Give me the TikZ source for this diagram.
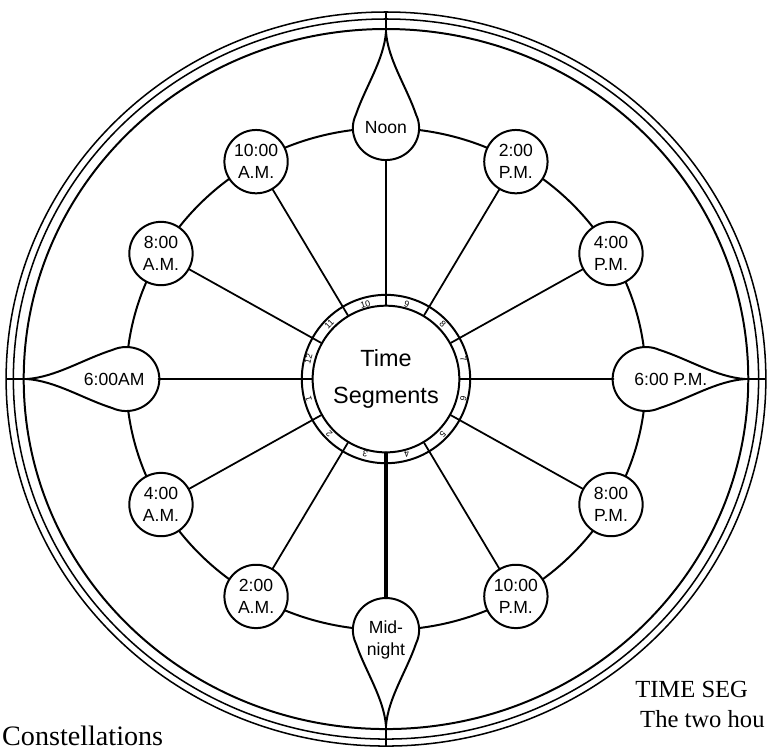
\documentclass[tikz,border=0pt]{standalone}
\usepackage{fontspec}
\setmainfont{Liberation Serif}
\newfontfamily\handfont{Liberation Sans}
\usepackage{tikz}
\usetikzlibrary{backgrounds}
\tikzset{
  every picture/.style={line join=round, line cap=round},
  ring/.style={line width=1.7pt},
  handtext/.style={font=\handfont\fontsize{15}{19}\selectfont},
  hour/.style={circle, draw, line width=1.7pt, fill=white, minimum size=1.9cm, inner sep=0pt, align=center, handtext},
  cardinal/.style={hour, draw=none, fill=none},
  spoke/.style={line width=1.5pt},
  heavy/.style={line width=2.3pt},
  heavier/.style={line width=3pt},
  segnum/.style={font=\handfont\fontsize{7.5}{7.5}\selectfont, inner sep=0pt},
  caption/.style={font=\fontsize{21}{23}\selectfont, anchor=base west, inner sep=0pt},
}
\newcommand{\teardrop}[1]{%
  \filldraw[ring, fill=white, shift={(#1:251)}, rotate=#1]
    (96,0) .. controls (68,2) and (41,20) .. (13.5,29)
    arc[start angle=65, end angle=295, radius=32]
    .. controls (41,-20) and (68,-2) .. (96,0) -- cycle;
  \draw[line width=1pt] (#1:347) -- (#1:367);}

\begin{document}
\begin{tikzpicture}[x=0.03cm, y=0.03cm, xscale=1.035]
\useasboundingbox (-372.9,-371) rectangle (368.1,379);
\node[circle, draw, ring, minimum size=4.4cm, inner sep=0pt, align=center, font=\handfont\fontsize{20}{32}\selectfont] (seg) at (0,0) {Time\\Segments};
\node[circle, draw, ring, minimum size=5.05cm, inner sep=0pt] (band) at (0,0) {};
\foreach \n in {1,...,12}
  \node[segnum, rotate={30*\n-285}] (num\n) at ({30*\n-195}:77.5) {\n};
\node[cardinal] (noon) at (90:251) {Noon};
\node[hour] (pm2) at (60:251) {2:00\\P.M.};
\node[hour] (pm4) at (30:251) {4:00\\P.M.};
\node[cardinal, label={[handtext, xshift=0.75cm]center:{6:00 P.M.}}] (pm6) at (0:251) {};
\node[hour] (pm8) at (-30:251) {8:00\\P.M.};
\node[hour] (pm10) at (-60:251) {10:00\\P.M.};
\node[cardinal, label={[handtext, align=center, yshift=-0.3cm]center:{Mid-\\night}}] (midnight) at (-90:251) {};
\node[hour] (am2) at (-120:251) {2:00\\A.M.};
\node[hour] (am4) at (-150:251) {4:00\\A.M.};
\node[cardinal, label={[handtext, xshift=-0.36cm]center:{6:00AM}}] (am6) at (180:251) {};
\node[hour] (am8) at (150:251) {8:00\\A.M.};
\node[hour] (am10) at (120:251) {10:00\\A.M.};
\draw[spoke] (seg) -- (noon) (seg) -- (pm2) (seg) -- (pm4) (seg) -- (pm8) (seg) -- (pm10)
  (seg) -- (am2) (seg) -- (am4) (seg) -- (am8) (seg) -- (am10);
\draw[heavy] (seg) -- (pm6) (seg) -- (am6);
\draw[heavier] (seg) -- (midnight);
\begin{scope}[on background layer]
\draw[ring] (0,0) circle (251) (0,0) circle (350);
\draw[line width=1.3pt] (0,0) circle (360) (0,0) circle (367);
\teardrop{90}
\teardrop{0}
\teardrop{-90}
\teardrop{180}
\end{scope}
\node[caption, font=\fontsize{24}{26}\selectfont] (const) at (-371,-366) {Constellations};
\node[caption] (tseg) at (240.6,-318) {TIME SEG};
\node[caption] (twohou) at (245.4,-348) {The two hou};
\end{tikzpicture}
\end{document}
